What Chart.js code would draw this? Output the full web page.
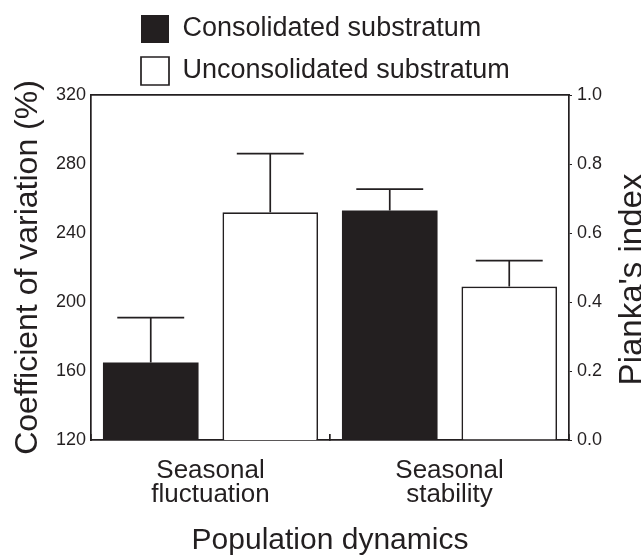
<!DOCTYPE html>
<html>
<head>
<meta charset="utf-8">
<script src="https://cdn.jsdelivr.net/npm/chart.js@4"></script>
<style>
  html, body { margin: 0; padding: 0; background: #fff; }
  #wrap { width: 641px; height: 556px; }
</style>
</head>
<body>
<div id="wrap"><canvas id="grafico"></canvas></div>
<script>
// datos
const categorias = [['Seasonal', 'fluctuation'], ['Seasonal', 'stability']];
const nombres = ['Consolidated substratum', 'Unconsolidated substratum'];

// coeficiente de variacion (%), eje izquierdo
const cvConsolidado = [165, null];
const cvConsolidadoErr = [26, null];
const cvNoConsolidado = [252, null];
const cvNoConsolidadoErr = [34, null];

// indice de Pianka, eje derecho
const piankaConsolidado = [null, 0.665];
const piankaConsolidadoErr = [null, 0.062];
const piankaNoConsolidado = [null, 0.445];
const piankaNoConsolidadoErr = [null, 0.075];

const tinta = '#231f20';
const fuente = "'Liberation Sans', Arial, sans-serif";

const errores = [cvConsolidadoErr, cvNoConsolidadoErr, piankaConsolidadoErr, piankaNoConsolidadoErr];

const barrasError = {
  id: 'barrasError',
  afterDatasetsDraw(chart) {
    const ctx = chart.ctx;
    ctx.save();
    ctx.strokeStyle = tinta;
    ctx.lineWidth = 1.7;
    chart.data.datasets.forEach((ds, i) => {
      const meta = chart.getDatasetMeta(i);
      const escala = chart.scales[ds.yAxisID];
      meta.data.forEach((barra, j) => {
        const v = ds.data[j];
        if (v === null) return;
        const arriba = escala.getPixelForValue(v + errores[i][j]);
        const medio = barra.width * 0.35;
        ctx.beginPath();
        ctx.moveTo(barra.x, barra.y);
        ctx.lineTo(barra.x, arriba);
        ctx.moveTo(barra.x - medio, arriba);
        ctx.lineTo(barra.x + medio, arriba);
        ctx.stroke();
      });
    });
    ctx.restore();
  }
};

// titulo del eje derecho, leido de abajo hacia arriba
const tituloDerecho = {
  id: 'tituloDerecho',
  afterDraw(chart) {
    const ctx = chart.ctx;
    const area = chart.chartArea;
    ctx.save();
    ctx.translate(633, (area.top + area.bottom) / 2 + 12);
    ctx.rotate(-Math.PI / 2);
    ctx.font = '33px ' + fuente;
    ctx.fillStyle = tinta;
    ctx.textAlign = 'center';
    ctx.textBaseline = 'middle';
    ctx.fillText("Pianka's index", 0, 0);
    ctx.restore();
  }
};

// mover la leyenda a la derecha, alineada como en la figura
const moverLeyenda = {
  id: 'moverLeyenda',
  afterLayout(chart) {
    const lg = chart.legend;
    lg.left = 127;
    lg.right = chart.width;
  }
};

new Chart(document.getElementById('grafico'), {
  type: 'bar',
  data: {
    labels: categorias,
    datasets: [
      { label: nombres[0], data: cvConsolidado, yAxisID: 'y', backgroundColor: tinta, borderColor: tinta, borderWidth: 0 },
      { label: nombres[1], data: cvNoConsolidado, yAxisID: 'y', backgroundColor: '#ffffff', borderColor: tinta, borderWidth: 1.7 },
      { label: nombres[0], data: piankaConsolidado, yAxisID: 'y1', backgroundColor: tinta, borderColor: tinta, borderWidth: 0 },
      { label: nombres[1], data: piankaNoConsolidado, yAxisID: 'y1', backgroundColor: '#ffffff', borderColor: tinta, borderWidth: 1.7 }
    ]
  },
  options: {
    responsive: true,
    maintainAspectRatio: false,
    animation: false,
    skipNull: true,
    categoryPercentage: 1.0,
    barPercentage: 0.8,
    layout: { padding: { top: 1, left: 0, right: 0, bottom: 0 } },
    plugins: {
      tooltip: { enabled: false },
      legend: {
        position: 'top',
        align: 'start',
        labels: {
          filter: (item) => item.datasetIndex < 2,
          boxWidth: 28,
          boxHeight: 28,
          padding: 14,
          color: tinta,
          font: { family: fuente, size: 27 }
        }
      }
    },
    scales: {
      x: {
        position: 'bottom',
        offset: true,
        afterFit: (s) => { s.height = 116; },
        grid: { display: true, drawOnChartArea: false, drawTicks: true, tickLength: -6, color: tinta, lineWidth: 1.7, offset: true },
        border: { display: true, color: tinta, width: 1.7 },
        ticks: { color: tinta, padding: 25, maxRotation: 0, font: { family: fuente, size: 26, lineHeight: 0.92 } },
        title: { display: true, text: 'Population dynamics', color: tinta, padding: { top: 0, bottom: -3 }, font: { family: fuente, size: 30 } }
      },
      xArriba: {
        position: 'top',
        type: 'category',
        grid: { display: false, drawTicks: false },
        ticks: { display: false },
        border: { display: true, color: tinta, width: 1.7 }
      },
      y: {
        position: 'left',
        min: 120,
        max: 320,
        afterFit: (s) => { s.width = 91; },
        grid: { display: false, drawTicks: false },
        border: { display: true, color: tinta, width: 1.7 },
        ticks: { stepSize: 40, padding: 5, color: tinta, font: { family: fuente, size: 18 } },
        title: { display: true, text: 'Coefficient of variation (%)', color: tinta, padding: { top: 9, bottom: 0 }, font: { family: fuente, size: 32 } }
      },
      y1: {
        position: 'right',
        min: 0,
        max: 1,
        afterFit: (s) => { s.width = 72; },
        grid: { display: true, drawOnChartArea: false, drawTicks: true, tickLength: 3, color: tinta, lineWidth: 1 },
        border: { display: true, color: tinta, width: 1.7 },
        ticks: { stepSize: 0.2, padding: 5, color: tinta, font: { family: fuente, size: 18 }, callback: (v) => v.toFixed(1) }
      }
    }
  },
  plugins: [barrasError, tituloDerecho, moverLeyenda]
});
</script>
</body>
</html>
